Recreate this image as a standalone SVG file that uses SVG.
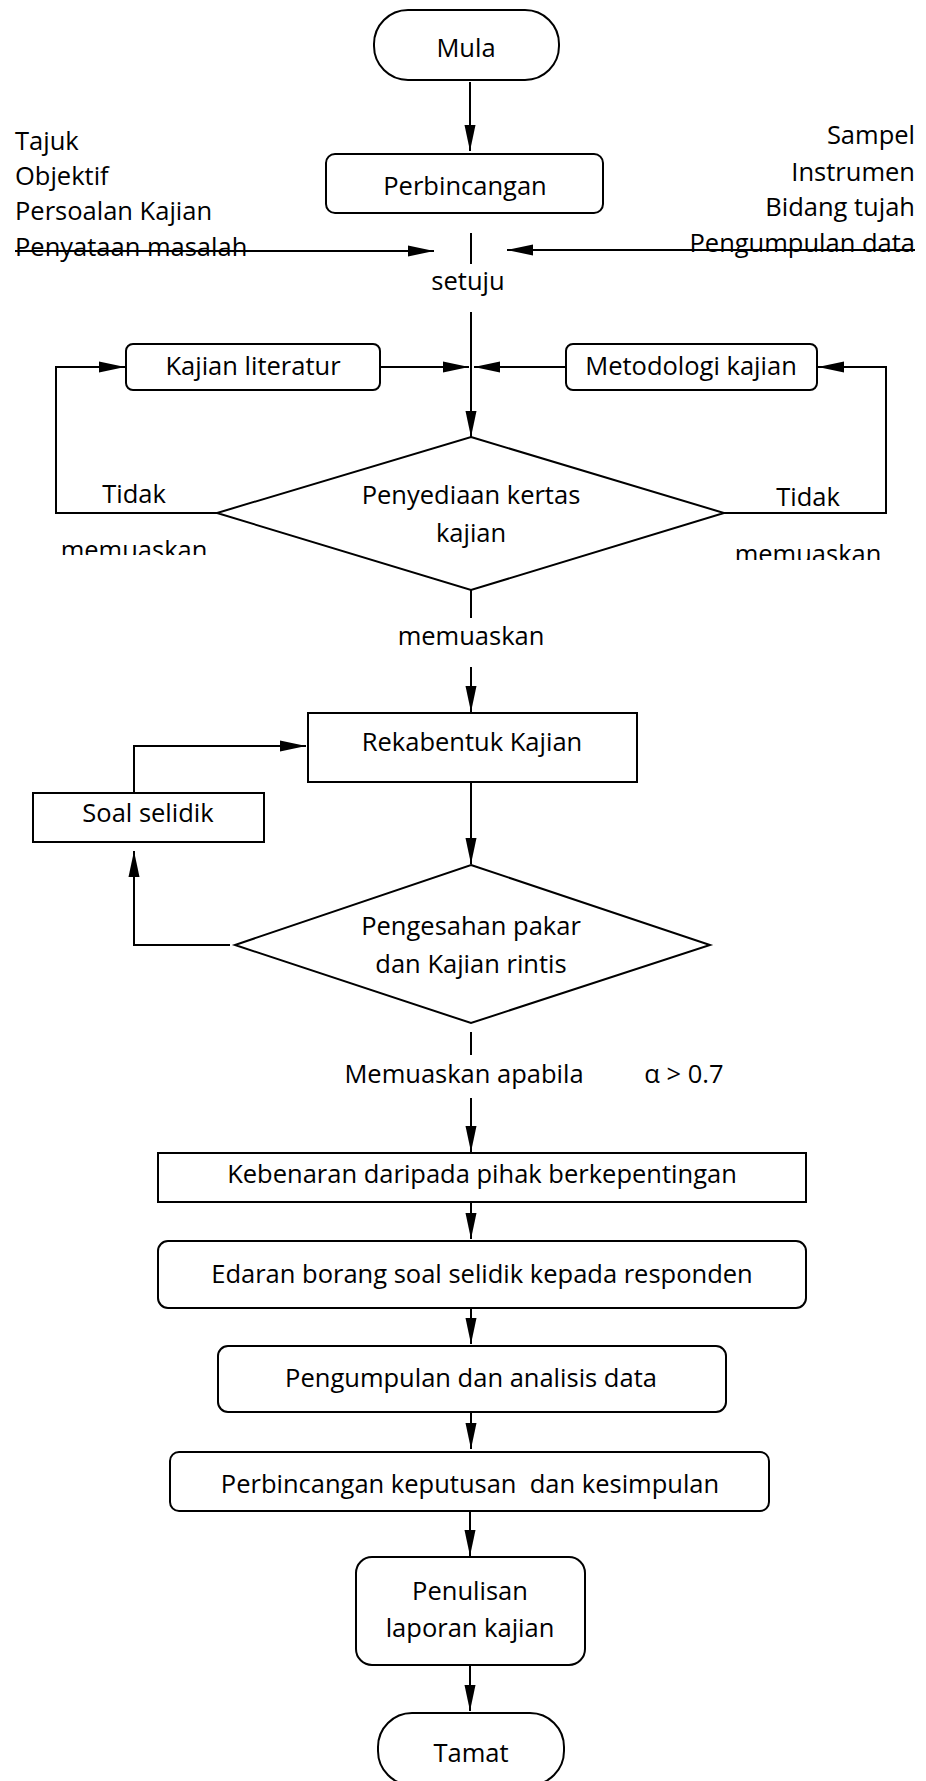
<svg xmlns="http://www.w3.org/2000/svg" width="926" height="1781" viewBox="0 0 926 1781">
<style>
text{font-family:"Open Sans","Liberation Sans",sans-serif;font-size:25.5px;fill:#000}
.c{text-anchor:middle}
.r{text-anchor:end}
.box{fill:#fff;stroke:#000;stroke-width:2}
.ln{fill:none;stroke:#000;stroke-width:2}
.ar{fill:none;stroke:#000;stroke-width:2;marker-end:url(#ah)}
</style>
<defs>
<marker id="ah" markerUnits="userSpaceOnUse" markerWidth="26" markerHeight="12" refX="26" refY="6" orient="auto">
<path d="M0,0.5 L26,6 L0,11.5 z" fill="#000"/>
</marker>
<clipPath id="clipL"><rect x="0" y="520" width="300" height="35"/></clipPath>
<clipPath id="clipR"><rect x="700" y="520" width="226" height="40"/></clipPath>
</defs>
<rect width="926" height="1781" fill="#fff"/>

<g id="connectors">
<line class="ar" x1="470" y1="82" x2="470" y2="151"/>
<line class="ln" x1="471" y1="233" x2="471" y2="264"/>
<line class="ar" x1="15" y1="251" x2="434" y2="251"/>
<line class="ar" x1="915" y1="250" x2="507" y2="250"/>
<line class="ar" x1="471" y1="312" x2="471" y2="437"/>
<polyline class="ar" points="217,513 56,513 56,367 125,367"/>
<line class="ar" x1="380" y1="367" x2="469" y2="367"/>
<line class="ar" x1="566" y1="367" x2="474" y2="367"/>
<polyline class="ar" points="724,513 886,513 886,367 818,367"/>
<line class="ln" x1="471" y1="590" x2="471" y2="618"/>
<line class="ar" x1="471" y1="667" x2="471" y2="712"/>
<line class="ar" x1="471" y1="782" x2="471" y2="864"/>
<polyline class="ar" points="230,945 134,945 134,851"/>
<polyline class="ar" points="134,793 134,746 306,746"/>
<line class="ln" x1="471" y1="1032" x2="471" y2="1055"/>
<line class="ar" x1="471" y1="1098" x2="471" y2="1152"/>
<line class="ar" x1="471" y1="1202" x2="471" y2="1239"/>
<line class="ar" x1="471" y1="1308" x2="471" y2="1344"/>
<line class="ar" x1="471" y1="1412" x2="471" y2="1449"/>
<line class="ar" x1="470" y1="1511" x2="470" y2="1556"/>
<line class="ar" x1="470" y1="1665" x2="470" y2="1711"/>
</g>

<g id="mula">
<rect class="box" x="374" y="10" width="185" height="70" rx="34" ry="34"/>
<text class="c" x="466" y="57">Mula</text>
</g>

<g id="perbincangan">
<rect class="box" x="326" y="154" width="277" height="59" rx="9"/>
<text class="c" x="465" y="195">Perbincangan</text>
</g>

<g id="input-kiri">
<text x="15" y="150">Tajuk</text>
<text x="15" y="185">Objektif</text>
<text x="15" y="220">Persoalan Kajian</text>
<text x="15" y="256">Penyataan masalah</text>
</g>

<g id="input-kanan">
<text class="r" x="915" y="144">Sampel</text>
<text class="r" x="915" y="181">Instrumen</text>
<text class="r" x="915" y="216">Bidang tujah</text>
<text class="r" x="915" y="252">Pengumpulan data</text>
</g>

<g id="setuju">
<text class="c" x="468" y="290">setuju</text>
</g>

<g id="kajian-literatur">
<rect class="box" x="126" y="344" width="254" height="46" rx="7"/>
<text class="c" x="253" y="375">Kajian literatur</text>
</g>

<g id="metodologi">
<rect class="box" x="566" y="344" width="251" height="46" rx="7"/>
<text class="c" x="691" y="375">Metodologi kajian</text>
</g>

<g id="penyediaan">
<polygon class="box" points="471,437 724,513 471,590 217,513"/>
<text class="c" x="471" y="504">Penyediaan kertas</text>
<text class="c" x="471" y="542">kajian</text>
</g>

<g id="label-tidak-kiri">
<text class="c" x="134" y="503">Tidak</text>
<text class="c" x="134" y="559" clip-path="url(#clipL)">memuaskan</text>
</g>

<g id="label-tidak-kanan">
<text class="c" x="808" y="506">Tidak</text>
<text class="c" x="808" y="563" clip-path="url(#clipR)">memuaskan</text>
</g>

<g id="label-memuaskan">
<text class="c" x="471" y="645">memuaskan</text>
</g>

<g id="rekabentuk">
<rect class="box" x="308" y="713" width="329" height="69"/>
<text class="c" x="472" y="751">Rekabentuk Kajian</text>
</g>

<g id="soal-selidik">
<rect class="box" x="33" y="793" width="231" height="49"/>
<text class="c" x="148" y="822">Soal selidik</text>
</g>

<g id="pengesahan">
<polygon class="box" points="471,865 710,945 471,1023 235,945"/>
<text class="c" x="471" y="935">Pengesahan pakar</text>
<text class="c" x="471" y="973">dan Kajian rintis</text>
</g>

<g id="label-apabila">
<text class="c" x="464" y="1083">Memuaskan apabila</text>
<text class="c" x="684" y="1083">α &gt; 0.7</text>
</g>

<g id="kebenaran">
<rect class="box" x="158" y="1153" width="648" height="49"/>
<text class="c" x="482" y="1183">Kebenaran daripada pihak berkepentingan</text>
</g>

<g id="edaran">
<rect class="box" x="158" y="1241" width="648" height="67" rx="10"/>
<text class="c" x="482" y="1283">Edaran borang soal selidik kepada responden</text>
</g>

<g id="pengumpulan">
<rect class="box" x="218" y="1346" width="508" height="66" rx="10"/>
<text class="c" x="471" y="1387">Pengumpulan dan analisis data</text>
</g>

<g id="perbincangan-keputusan">
<rect class="box" x="170" y="1452" width="599" height="59" rx="9"/>
<text class="c" x="470" y="1493" style="white-space:pre">Perbincangan keputusan  dan kesimpulan</text>
</g>

<g id="penulisan">
<rect class="box" x="356" y="1557" width="229" height="108" rx="16"/>
<text class="c" x="470" y="1600">Penulisan</text>
<text class="c" x="470" y="1637">laporan kajian</text>
</g>

<g id="tamat">
<rect class="box" x="378" y="1713" width="186" height="72" rx="34" ry="34"/>
<text class="c" x="471" y="1762">Tamat</text>
</g>
</svg>
